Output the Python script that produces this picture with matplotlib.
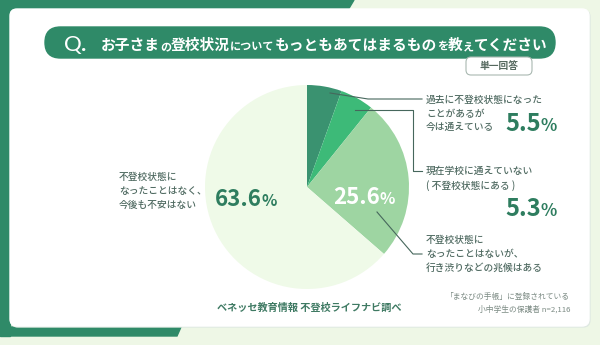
import matplotlib
matplotlib.use('Agg')
import matplotlib.pyplot as plt
from matplotlib.patches import FancyBboxPatch, Polygon, Rectangle

plt.rcParams['font.family'] = ['Noto Sans CJK JP', 'DejaVu Sans']

# Survey result, slices clockwise from 12 o'clock
shares = [5.5, 5.3, 25.6, 63.6]
slice_colors = ['#3a9270', '#3dba78', '#9ed5a2', '#effae8']

label_lines = [
    ['過去に不登校状態になった', 'ことがあるが', '今は通えている'],
    ['現在学校に通えていない', '( 不登校状態にある )'],
    ['不登校状態に', 'なったことはないが、', '行き渋りなどの兆候はある'],
    ['不登校状態に', 'なったことはなく、', '今後も不安はない'],
]

# question text, big / small glyph runs
title_parts = [('お子さま', 'L'), ('の', 'S'), ('登校状況', 'L'), ('について', 'S'),
               ('もっともあてはまるもの', 'L'), ('を', 'S'), ('教', 'L'), ('え', 'S'),
               ('てください', 'L')]
answer_type = '単一回答'
source = 'ベネッセ教育情報 不登校ライフナビ調べ'
sample_lines = ['「まなびの手帳」に登録されている', '小中学生の保護者 n=2,116']

W, H = 600, 345
GREEN = '#2f8a68'
PCT_GREEN = '#2e7d5f'
TEXT = '#4f6a61'
LINE = '#46675c'

fig = plt.figure(figsize=(W / 100, H / 100), dpi=100)
renderer = fig.canvas.get_renderer()

# background layer in pixel coordinates
bg = fig.add_axes([0, 0, 1, 1])
bg.set_xlim(0, W)
bg.set_ylim(H, 0)
bg.axis('off')
bg.add_patch(Rectangle((0, 0), W, H, color='#eef7e6', zorder=0))
bg.add_patch(Polygon([(0, 0), (354, 0), (348, 10), (0, 10)], color=GREEN, zorder=1))
bg.add_patch(Rectangle((0, 0), 10, 336, color=GREEN, zorder=1))
bg.add_patch(Polygon([(0, 327), (181, 327), (177, 336), (0, 336)], color=GREEN, zorder=1))
bg.add_patch(FancyBboxPatch((11, 10), 579, 317, boxstyle='round,pad=0,rounding_size=7',
                            color='#dfe9e2', zorder=2))
bg.add_patch(FancyBboxPatch((10, 9), 579, 317, boxstyle='round,pad=0,rounding_size=7',
                            color='white', zorder=3))
bg.add_patch(FancyBboxPatch((45, 27), 510, 31, boxstyle='round,pad=0,rounding_size=15.5',
                            color=GREEN, zorder=4))
bg.add_patch(FancyBboxPatch((466, 57), 66, 18, boxstyle='round,pad=0,rounding_size=5',
                            facecolor='white', edgecolor='#a9b8b1', lw=0.8, zorder=5))

# pie
cx, cy, r = 307, 187, 102
pie_ax = fig.add_axes([(cx - r) / W, 1 - (cy + r) / H, 2 * r / W, 2 * r / H])
pie_ax.pie(shares, colors=slice_colors, startangle=90, counterclock=False,
           wedgeprops=dict(linewidth=0))
pie_ax.set_xlim(-1, 1)
pie_ax.set_ylim(-1, 1)

# text / leader line layer
ov = fig.add_axes([0, 0, 1, 1])
ov.set_xlim(0, W)
ov.set_ylim(H, 0)
ov.axis('off')


def width(t):
    return t.get_window_extent(renderer).width


# title
ov.text(64, 51, 'Q', size=16, color='white', va='baseline', family='Lato')
ov.text(81, 51, '.', size=16, color='white', va='baseline', weight='bold', family='Lato')
x = 101
for s, kind in title_parts:
    t = ov.text(x, 50, s, size=10.6 if kind == 'L' else 8, color='white',
                weight='bold', va='baseline')
    x += width(t)
ov.text(499, 66.5, answer_type, size=7, color='#56695f', ha='center', va='center', weight='bold')


def percent(x, y, value, color, size, ha='left'):
    # number followed by a smaller percent sign, sharing a baseline
    if ha == 'left':
        num = ov.text(x, y, f'{value}', size=size, color=color, weight='bold', va='baseline')
        ov.text(x + width(num), y, '%', size=size * 0.72, color=color,
                weight='bold', va='baseline')
    else:
        sign = ov.text(x, y, '%', size=size * 0.72, color=color, weight='bold',
                       va='baseline', ha='right')
        ov.text(x - width(sign), y, f'{value}', size=size, color=color,
                weight='bold', va='baseline', ha='right')


def label(x, ys, lines):
    for yy, s in zip(ys, lines):
        ov.text(x, yy, s, size=7, color=TEXT, va='center', weight='medium')


# right side labels
label(426, [100, 114, 127], label_lines[0])
percent(557, 131, shares[0], PCT_GREEN, 17, ha='right')
label(426, [171, 186], label_lines[1])
percent(557, 216, shares[1], PCT_GREEN, 17, ha='right')
label(426, [240, 254, 268], label_lines[2])

# left side label and inside values
label(119, [177, 191, 205], label_lines[3])
percent(215, 206, shares[3], PCT_GREEN, 16)
percent(333, 204, shares[2], 'white', 16)

# leader lines
ov.plot([330, 368, 422], [93, 99, 99], color=LINE, lw=0.8)
ov.plot([355, 413, 413, 422], [110, 110, 171, 171], color=LINE, lw=0.8)
ov.plot([377, 413, 422], [212, 254, 254], color=LINE, lw=0.8)

# footer
ov.text(217, 308, source, size=7.3, color='#3f7a63', va='center', weight='bold')
ov.text(570, 297, sample_lines[0], size=5.6, color='#7b8a83', va='center', ha='right')
ov.text(570, 309, sample_lines[1], size=5.6, color='#7b8a83', va='center', ha='right')

fig.savefig('out.png', dpi=100)
